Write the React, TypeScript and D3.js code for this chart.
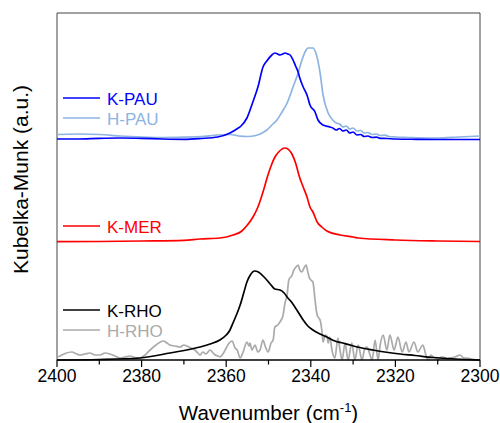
import React from "react";
import * as d3 from "d3";

type Pt = [number, number];

// wavenumber (cm-1), Kubelka-Munk intensity (a.u., stacked with offsets)
const kPau: Pt[] = [
  [2400, 2.21], [2395, 2.21], [2390, 2.217], [2385, 2.22], [2380, 2.217], [2375, 2.21],
  [2370, 2.207], [2366, 2.215], [2362, 2.23], [2359.1, 2.27], [2357.5, 2.31], [2356.5, 2.34],
  [2355.1, 2.42], [2353.7, 2.58], [2352.5, 2.73], [2351.3, 2.93], [2350.4, 2.99], [2349.2, 3.05],
  [2348.5, 3.07], [2347.8, 3.06], [2347.3, 3.05], [2346.6, 3.06], [2346.1, 3.07], [2345.4, 3.06],
  [2344.9, 3.05], [2344.2, 3.0], [2343.6, 2.94], [2343.0, 2.88], [2342.6, 2.82], [2341.8, 2.73],
  [2340.9, 2.65], [2340.2, 2.55], [2339.0, 2.48], [2338.3, 2.4], [2337.1, 2.35], [2335.5, 2.33],
  [2334.8, 2.32], [2334.0, 2.3], [2333.2, 2.315], [2332.4, 2.29], [2331.6, 2.3], [2330.8, 2.27],
  [2330.0, 2.28], [2329.1, 2.25], [2328.2, 2.255], [2327.4, 2.235], [2326.5, 2.24], [2325.5, 2.225],
  [2324.5, 2.228], [2323.6, 2.217], [2322, 2.215], [2320, 2.21], [2315, 2.207], [2310, 2.205],
  [2305, 2.205], [2300, 2.205],
];

const hPau: Pt[] = [
  [2400, 2.255], [2395, 2.26], [2390, 2.255], [2385, 2.24], [2380, 2.23], [2375, 2.225],
  [2370, 2.228], [2366, 2.233], [2362, 2.25], [2359, 2.255], [2357, 2.24], [2355, 2.235],
  [2353, 2.245], [2351.5, 2.27], [2350.4, 2.3], [2349.2, 2.35], [2348.0, 2.4], [2346.8, 2.48],
  [2345.6, 2.57], [2344.2, 2.73], [2343.0, 2.87], [2342.1, 3.0], [2341.1, 3.1], [2340.7, 3.12],
  [2340.0, 3.12], [2339.5, 3.12], [2338.8, 3.07], [2337.8, 2.87], [2337.1, 2.65], [2335.9, 2.47],
  [2334.8, 2.4], [2334.0, 2.37], [2333.2, 2.36], [2332.4, 2.33], [2331.6, 2.34], [2330.8, 2.31],
  [2330.0, 2.32], [2329.1, 2.29], [2328.2, 2.295], [2327.4, 2.27], [2326.5, 2.275], [2325.5, 2.255],
  [2324.5, 2.26], [2323.6, 2.245], [2322.5, 2.248], [2321.5, 2.235], [2320, 2.23], [2317, 2.225],
  [2313, 2.22], [2310, 2.22], [2305, 2.23], [2300, 2.24],
];

const kMer: Pt[] = [
  [2400, 1.183], [2390, 1.185], [2380, 1.19], [2370, 1.197], [2366.2, 1.21], [2361.5, 1.22],
  [2358.4, 1.25], [2356.3, 1.29], [2355.0, 1.35], [2353.8, 1.42], [2352.5, 1.53], [2351.3, 1.68],
  [2350.2, 1.84], [2349.4, 1.94], [2348.6, 2.02], [2347.6, 2.08], [2346.1, 2.12], [2344.6, 2.07],
  [2343.6, 1.97], [2342.6, 1.82], [2341.8, 1.73], [2340.9, 1.63], [2340.2, 1.53], [2339.5, 1.48],
  [2338.5, 1.38], [2337.4, 1.33], [2336.2, 1.29], [2333.1, 1.25], [2330.0, 1.23], [2328.8, 1.22],
  [2320, 1.2], [2310, 1.19], [2300, 1.185],
];

const kRho: Pt[] = [
  [2400, 0], [2390, 0.005], [2380.4, 0.02], [2373.3, 0.07], [2366.2, 0.13], [2363.8, 0.16],
  [2361.5, 0.2], [2360.0, 0.25], [2359.1, 0.3], [2358.4, 0.37], [2357.4, 0.47], [2356.7, 0.55],
  [2355.8, 0.68], [2355.1, 0.78], [2354.3, 0.85], [2353.3, 0.89], [2352.4, 0.88], [2351.3, 0.84],
  [2350.4, 0.8], [2349.4, 0.75], [2348.5, 0.71], [2347.3, 0.7], [2346.3, 0.67], [2345.6, 0.63],
  [2344.4, 0.57], [2343.3, 0.5], [2341.8, 0.4], [2340.7, 0.34], [2339.5, 0.3], [2337.8, 0.26],
  [2336.2, 0.23], [2334.3, 0.19], [2332.4, 0.17], [2330.7, 0.15], [2328.4, 0.125], [2325.3, 0.1],
  [2322.5, 0.08], [2318.9, 0.06], [2315.4, 0.045], [2311.1, 0.025], [2305.9, 0.01], [2300, 0],
];

const hRho: Pt[] = [
  [2400.0, 0.03], [2399.3, 0.04], [2398.1, 0.065], [2396.5, 0.08], [2395.3, 0.06], [2394.6, 0.05],
  [2393.4, 0.06], [2392.2, 0.07], [2391.0, 0.05], [2389.8, 0.05], [2388.7, 0.07], [2387.5, 0.06],
  [2386.3, 0.04], [2385.1, 0.02], [2383.9, 0.03], [2382.7, 0.04], [2381.6, 0.025], [2380.4, 0.02],
  [2379.2, 0.05], [2378.0, 0.1], [2376.6, 0.15], [2374.9, 0.19], [2374.0, 0.17], [2373.3, 0.15],
  [2372.1, 0.14], [2370.9, 0.13], [2370.0, 0.15], [2369.3, 0.14], [2368.3, 0.12], [2367.4, 0.1],
  [2366.7, 0.07], [2366.2, 0.05], [2365.5, 0.08], [2364.8, 0.06], [2363.8, 0.1], [2363.1, 0.07],
  [2362.6, 0.05], [2361.9, 0.04], [2361.5, 0.03], [2360.8, 0.06], [2360.0, 0.12], [2359.3, 0.17],
  [2358.6, 0.19], [2357.9, 0.12], [2357.4, 0.1], [2356.7, 0.02], [2356.0, 0.08], [2355.1, 0.18],
  [2354.6, 0.14], [2354.4, 0.17], [2353.9, 0.1], [2353.2, 0.15], [2352.5, 0.08], [2352.0, 0.1],
  [2351.3, 0.2], [2350.8, 0.14], [2350.1, 0.08], [2349.4, 0.17], [2348.9, 0.2], [2348.5, 0.33],
  [2347.8, 0.35], [2347.3, 0.38], [2346.6, 0.44], [2346.1, 0.57], [2345.6, 0.65], [2345.2, 0.8],
  [2344.4, 0.85], [2344.0, 0.9], [2343.5, 0.93], [2343.0, 0.95], [2342.6, 0.9], [2342.1, 0.88],
  [2341.6, 0.92], [2341.1, 0.95], [2340.7, 0.88], [2340.4, 0.83], [2340.0, 0.8], [2339.5, 0.78],
  [2339.0, 0.6], [2338.5, 0.45], [2338.1, 0.42], [2337.8, 0.4], [2337.4, 0.3], [2337.1, 0.18],
  [2336.6, 0.25], [2336.2, 0.24], [2335.9, 0.17], [2335.5, 0.23], [2335.0, 0.1], [2334.3, 0.02],
  [2333.6, 0.22], [2333.1, 0.1], [2332.6, 0.0], [2331.9, 0.17], [2331.2, 0.0], [2330.3, 0.17],
  [2329.6, 0.0], [2328.8, 0.15], [2327.9, 0.0], [2327.2, 0.12], [2326.7, 0.13], [2326.0, 0.05],
  [2325.5, 0.0], [2324.8, 0.2], [2324.1, 0.0], [2323.6, 0.15], [2322.9, 0.25], [2322.0, 0.1],
  [2321.3, 0.25], [2320.3, 0.1], [2319.4, 0.23], [2318.4, 0.08], [2317.5, 0.18], [2316.8, 0.08],
  [2315.6, 0.18], [2314.7, 0.08], [2313.5, 0.15], [2312.8, 0.05], [2312.3, 0.0], [2311.6, 0.05],
  [2311.1, 0.03], [2310.4, 0.02], [2309.9, 0.0], [2309.2, 0.03], [2308.7, 0.03], [2307.8, 0.01],
  [2307.1, 0.02], [2305.9, 0.03], [2304.7, 0.05], [2303.8, 0.02], [2303.1, 0.02], [2301.9, 0.01],
  [2300.7, 0.0], [2300.0, 0.0],
];

const seriesNames = ["K-PAU", "H-PAU", "K-MER", "K-RHO", "H-RHO"];
const seriesColors = ["#0000ff", "#8db4e2", "#ff0000", "#000000", "#aaaaaa"];
const seriesData = [kPau, hPau, kMer, kRho, hRho];
const drawOrder = [1, 0, 2, 4, 3];

const xDomain: [number, number] = [2400, 2300];
const yDomain: [number, number] = [0, 3.47];
const majorTicks = [2400, 2380, 2360, 2340, 2320, 2300];
const minorTicks = [2390, 2370, 2350, 2330, 2310];

const W = 500;
const H = 423;
const M = { left: 57, right: 480, top: 13, bottom: 360 };

// legend anchor rows (pixel y of the legend line) per series
const legendY = [98, 118, 226, 310, 330];

export default function App() {
  const x = d3.scaleLinear().domain(xDomain).range([M.left, M.right]);
  const y = d3.scaleLinear().domain(yDomain).range([M.bottom, M.top]);
  const line = d3
    .line<Pt>()
    .x((d) => x(d[0]))
    .y((d) => y(d[1]))
    .curve(d3.curveMonotoneX);
  const font = "'Liberation Sans', Arial, sans-serif";

  return (
    <svg
      width={W}
      height={H}
      style={{ position: "absolute", left: 0, top: 0, background: "#fff" }}
      fontFamily={font}
    >
      <rect x={0} y={0} width={W} height={H} fill="#fff" />
      {/* frame */}
      <path
        d={`M${M.left},${M.bottom}V${M.top}H${M.right}V${M.bottom}`}
        fill="none"
        stroke="#444"
        strokeWidth={1}
      />
      {/* series */}
      {drawOrder.map((i) => (
        <path
          key={seriesNames[i]}
          d={line(seriesData[i]) || ""}
          fill="none"
          stroke={seriesColors[i]}
          strokeWidth={1.7}
          strokeLinejoin="round"
        />
      ))}
      {/* bottom axis */}
      <line x1={M.left} x2={M.right} y1={M.bottom} y2={M.bottom} stroke="#000" strokeWidth={1.3} />
      {majorTicks.map((t) => (
        <g key={t}>
          <line x1={x(t)} x2={x(t)} y1={M.bottom} y2={M.bottom + 7} stroke="#000" strokeWidth={1.2} />
          <text x={x(t)} y={M.bottom + 22} textAnchor="middle" fontSize={17.5} fill="#000">
            {t}
          </text>
        </g>
      ))}
      {minorTicks.map((t) => (
        <line key={t} x1={x(t)} x2={x(t)} y1={M.bottom} y2={M.bottom + 4.5} stroke="#000" strokeWidth={1.2} />
      ))}
      {/* x label */}
      <text x={(M.left + M.right) / 2} y={420} textAnchor="middle" fontSize={20.5} fill="#000">
        Wavenumber (cm
        <tspan fontSize={13} dy={-8}>-1</tspan>
        <tspan dy={8}>)</tspan>
      </text>
      {/* y label */}
      <text
        transform={`translate(28,${(M.top + M.bottom) / 2 - 7}) rotate(-90)`}
        textAnchor="middle"
        fontSize={21}
        fill="#000"
      >
        Kubelka-Munk (a.u.)
      </text>
      {/* legends */}
      {seriesNames.map((n, i) => (
        <g key={n}>
          <line x1={63} x2={100} y1={legendY[i]} y2={legendY[i]} stroke={seriesColors[i]} strokeWidth={1.7} />
          <text x={107} y={legendY[i] + 6.5} fontSize={17} fill={seriesColors[i]}>
            {n}
          </text>
        </g>
      ))}
    </svg>
  );
}
